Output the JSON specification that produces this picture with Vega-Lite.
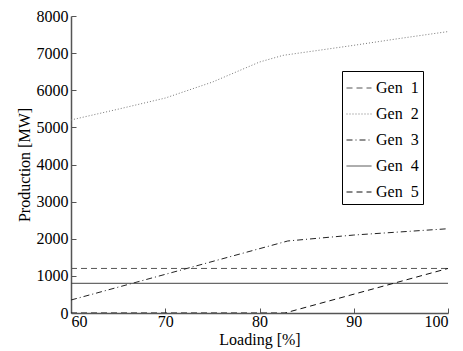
{
  "$schema": "https://vega.github.io/schema/vega-lite/v6.json",
  "width": 377,
  "height": 297,
  "autosize": {"type": "none"},
  "padding": {"left": 71, "top": 16, "right": 15, "bottom": 38},
  "background": "white",
  "config": {
    "view": {"stroke": null},
    "font": "Liberation Serif",
    "axis": {
      "grid": false,
      "domainColor": "#555",
      "domainWidth": 1.5,
      "tickColor": "#555",
      "tickWidth": 1,
      "tickSize": -5,
      "labelFont": "Liberation Serif",
      "labelFontSize": 16,
      "labelColor": "black",
      "titleFont": "Liberation Serif",
      "titleFontSize": 16,
      "titleFontWeight": "normal",
      "titleColor": "black"
    }
  },
  "data": {
    "values": [
      {"gen": "Gen 1", "loading": 60, "mw": 1200},
      {"gen": "Gen 1", "loading": 100, "mw": 1200},
      {"gen": "Gen 2", "loading": 60, "mw": 5200},
      {"gen": "Gen 2", "loading": 65, "mw": 5490},
      {"gen": "Gen 2", "loading": 70, "mw": 5790},
      {"gen": "Gen 2", "loading": 75, "mw": 6220},
      {"gen": "Gen 2", "loading": 80, "mw": 6760},
      {"gen": "Gen 2", "loading": 82.5, "mw": 6940},
      {"gen": "Gen 2", "loading": 85, "mw": 7030},
      {"gen": "Gen 2", "loading": 90, "mw": 7210},
      {"gen": "Gen 2", "loading": 95, "mw": 7400},
      {"gen": "Gen 2", "loading": 100, "mw": 7580},
      {"gen": "Gen 3", "loading": 60, "mw": 350},
      {"gen": "Gen 3", "loading": 83, "mw": 1940},
      {"gen": "Gen 3", "loading": 90, "mw": 2100},
      {"gen": "Gen 3", "loading": 100, "mw": 2270},
      {"gen": "Gen 4", "loading": 60, "mw": 800},
      {"gen": "Gen 4", "loading": 100, "mw": 800},
      {"gen": "Gen 5", "loading": 60, "mw": 0},
      {"gen": "Gen 5", "loading": 82.7, "mw": 0},
      {"gen": "Gen 5", "loading": 100, "mw": 1200}
    ]
  },
  "mark": {"type": "line", "strokeWidth": 1, "clip": true},
  "encoding": {
    "x": {
      "field": "loading",
      "type": "quantitative",
      "scale": {"domain": [60, 100], "nice": false},
      "axis": {"values": [60, 70, 80, 90, 100], "format": "d", "title": "Loading [%]", "labelFont": "Liberation Serif", "labelFontSize": 16, "labelPadding": 5, "titlePadding": 2}
    },
    "y": {
      "field": "mw",
      "type": "quantitative",
      "scale": {"domain": [0, 8000], "nice": false},
      "axis": {"values": [0, 1000, 2000, 3000, 4000, 5000, 6000, 7000, 8000], "format": "d", "title": "Production [MW]", "labelFont": "Liberation Serif", "labelFontSize": 16, "labelPadding": 8, "titlePadding": 4}
    },
    "color": {
      "field": "gen",
      "type": "nominal",
      "scale": {"domain": ["Gen 1", "Gen 2", "Gen 3", "Gen 4", "Gen 5"], "range": ["#555", "#777", "#222", "#444", "#111"]},
      "legend": {
        "title": null,
        "orient": "none",
        "legendX": 271,
        "legendY": 55,
        "strokeColor": "black",
        "fillColor": "white",
        "padding": 4,
        "rowPadding": 5,
        "symbolType": "stroke",
        "symbolSize": 625,
        "symbolStrokeWidth": 1,
        "labelFont": "Liberation Serif",
        "labelFontSize": 16,
        "labelColor": "black",
        "labelOffset": 4,
        "labelExpr": "'Gen\u00a0\u00a0' + slice(datum.label, -1) + '\u00a0\u00a0\u00a0'"
      }
    },
    "strokeDash": {
      "field": "gen",
      "type": "nominal",
      "scale": {"domain": ["Gen 1", "Gen 2", "Gen 3", "Gen 4", "Gen 5"], "range": [[6, 4], [1, 2], [6, 3, 1, 3], [1, 0], [6, 4]]},
      "legend": {"title": null}
    }
  }
}
